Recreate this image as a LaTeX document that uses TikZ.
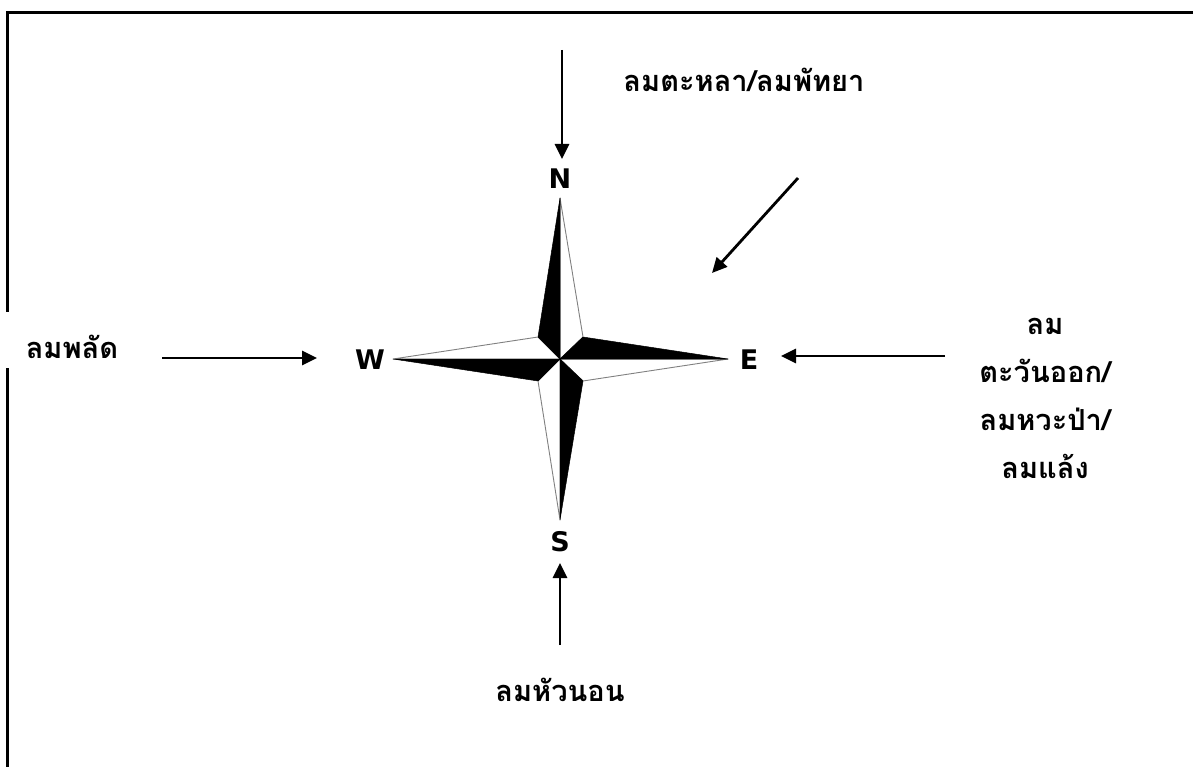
\documentclass[tikz,border=0pt]{standalone}
\usepackage{fontspec}
\usetikzlibrary{arrows.meta}
\newfontfamily\thaifont[Script=Thai]{Loma}
\newfontfamily\dvsfont{DejaVu Sans}
\begin{document}
\begin{tikzpicture}[x=1pt,y=-1pt,
 thlabel/.style={font=\thaifont\bfseries\fontsize{29}{48}\selectfont, inner sep=0, align=center},
 dirlabel/.style={font=\dvsfont\bfseries\fontsize{27}{27}\selectfont, inner sep=0},
 wind/.style={line width=2.8pt, -{Triangle[length=15pt,width=14pt]}},
 blk/.style={fill=black, draw=black, line width=0.5pt, line join=round},
 wht/.style={fill=white, draw=gray, line width=0.9pt, line join=round},
 frame/.style={line width=3pt}]
\useasboundingbox (0,0) rectangle (1193,767);
% frame
\draw[frame] (1193,13) -- (7,13) -- (7,312);
\draw[frame] (7,368) -- (7,767);
% star points
\coordinate (C) at (560,359);
\coordinate (tN) at (560,198);
\coordinate (tS) at (560,520);
\coordinate (tW) at (393,359);
\coordinate (tE) at (728,359);
\coordinate (cNE) at (583,337);
\coordinate (cNW) at (538,337);
\coordinate (cSW) at (538,381);
\coordinate (cSE) at (583,381);
\draw[wht] (tN) -- (cNE) -- (C) -- cycle;
\draw[wht] (tE) -- (cSE) -- (C) -- cycle;
\draw[wht] (tS) -- (cSW) -- (C) -- cycle;
\draw[wht] (tW) -- (cNW) -- (C) -- cycle;
\draw[blk] (tN) -- (cNW) -- (C) -- cycle;
\draw[blk] (tE) -- (cNE) -- (C) -- cycle;
\draw[blk] (tS) -- (cSE) -- (C) -- cycle;
\draw[blk] (tW) -- (cSW) -- (C) -- cycle;
% direction letters
\node[dirlabel] (N) at (560,179) {N};
\node[dirlabel] (S) at (560,542) {S};
\node[dirlabel] (W) at (370,360) {W};
\node[dirlabel] (E) at (749,360) {E};
% wind labels
\node[thlabel] (lNorth) at (744,80) {ลมตะหลา/ลมพัทยา};
\node[thlabel] (lWest) at (72,347) {ลมพลัด};
\node[thlabel] (lEast) at (1045,398) {ลม\\ตะวันออก/\\ลมหวะป่า/\\ลมแล้ง};
\node[thlabel] (lSouth) at (560,690) {ลมหัวนอน};
% arrows
\coordinate (aN0) at (562,50);   \coordinate (aN1) at (562,159);
\coordinate (aNE0) at (798,178); \coordinate (aNE1) at (712,273);
\coordinate (aW0) at (162,358);  \coordinate (aW1) at (317,358);
\coordinate (aE0) at (945,356);  \coordinate (aE1) at (781,356);
\coordinate (aS0) at (560,645);  \coordinate (aS1) at (560,563);
\draw[wind] (aN0) -- (aN1);
\draw[wind] (aNE0) -- (aNE1);
\draw[wind] (aW0) -- (aW1);
\draw[wind] (aE0) -- (aE1);
\draw[wind] (aS0) -- (aS1);
\end{tikzpicture}
\end{document}
